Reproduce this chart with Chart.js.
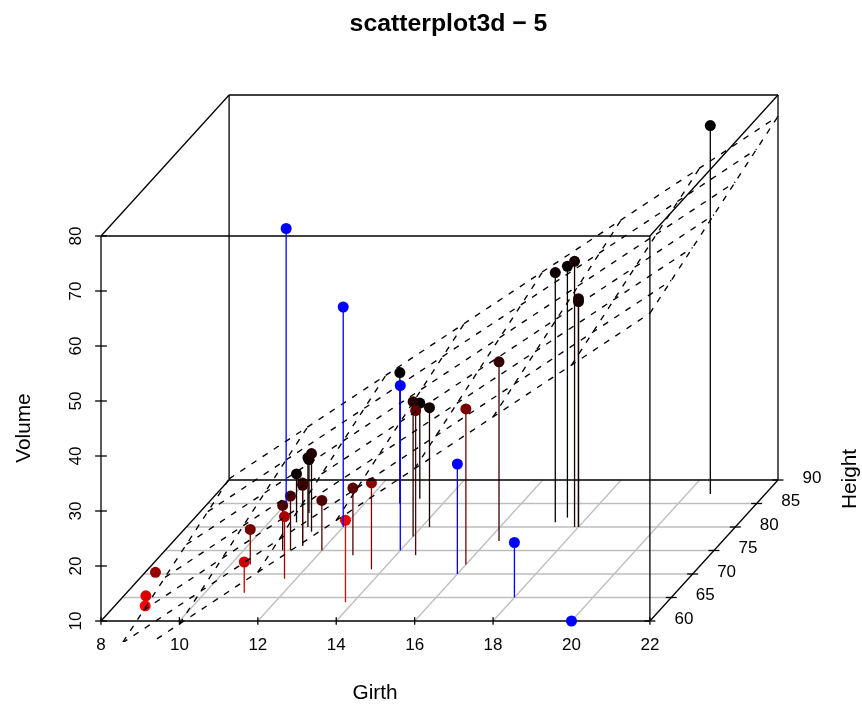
<!DOCTYPE html>
<html>
<head>
<meta charset="utf-8">
<title>scatterplot3d - 5</title>
<script src="https://cdn.jsdelivr.net/npm/chart.js@4"></script>
<style>
html, body { margin: 0; padding: 0; background: #fff; }
canvas { display: block; }
</style>
</head>
<body>
<canvas id="trees3d" width="862" height="704"></canvas>
<script>
// trees data
var girth = [8.3, 8.6, 8.8, 10.5, 10.7, 10.8, 11.0, 11.0, 11.1, 11.2, 11.3, 11.4, 11.4, 11.7, 12.0, 12.9, 12.9, 13.3, 13.7, 13.8, 14.0, 14.2, 14.5, 16.0, 16.3, 17.3, 17.5, 17.9, 18.0, 18.0, 20.6];
var height = [70, 65, 63, 72, 81, 83, 66, 75, 80, 75, 79, 76, 76, 69, 75, 74, 85, 86, 71, 64, 78, 80, 74, 72, 77, 81, 82, 80, 80, 80, 87];
var volume = [10.3, 10.3, 10.2, 16.4, 18.8, 19.7, 15.6, 18.2, 22.6, 19.9, 24.2, 21.0, 21.4, 21.3, 19.1, 22.2, 33.8, 27.4, 25.7, 24.9, 34.5, 31.7, 36.3, 38.3, 42.6, 55.4, 55.7, 58.3, 51.5, 51.0, 77.0];

// the blue points added on top
var blueGirth = [10, 12, 14, 16, 18, 20];
var blueHeight = [85, 80, 75, 70, 65, 60];
var blueVolume = [60, 50, 40, 30, 20, 10];

// axis ticks
var girthTicks = [8, 10, 12, 14, 16, 18, 20, 22];
var heightTicks = [60, 65, 70, 75, 80, 85, 90];
var volumeTicks = [10, 20, 30, 40, 50, 60, 70, 80];

// regression plane: Volume ~ Girth + Height
var planeIntercept = -57.9877;
var planeGirth = 4.7082;
var planeHeight = 0.3393;

// how far one unit of height moves a point on the page, in girth and volume units
var heightToGirth = 0.1089;
var heightToVolume = 0.8545;

var FONT = '"Liberation Sans", Arial, sans-serif';

var gMin = 8, gMax = 22, hMin = 60, hMax = 90, vMin = 10, vMax = 80;

function px(g, h) { return g + (h - hMin) * heightToGirth; }
function py(v, h) { return v + (h - hMin) * heightToVolume; }
function pt(g, h, v) { return { x: px(g, h), y: py(v, h) }; }

var layers = [];

function seg(a, b, color, extra) {
    var ds = {
        data: [a, b],
        showLine: true,
        borderColor: color,
        borderWidth: 1.3,
        pointRadius: 0,
        clip: false
    };
    for (var k in extra) ds[k] = extra[k];
    layers.push(ds);
}

function stem(g, h, v, color) {
    seg(pt(g, h, vMin), pt(g, h, v), color, {
        pointRadius: [0, 5.5],
        pointBackgroundColor: color,
        pointBorderWidth: 0
    });
}

// grid on the floor
girthTicks.slice(1, -1).forEach(function (g) {
    seg(pt(g, hMin, vMin), pt(g, hMax, vMin), '#bebebe');
});
heightTicks.slice(1, -1).forEach(function (h) {
    seg(pt(gMin, h, vMin), pt(gMax, h, vMin), '#bebebe');
});

// points go back to front, getting redder towards the viewer
var order = girth.map(function (g, i) { return i; });
order.sort(function (a, b) { return (height[b] - height[a]) || (a - b); });
var maxH = Math.max.apply(null, height), minH = Math.min.apply(null, height);
order.forEach(function (i, rank) {
    var red = rank / (order.length - 1) * (maxH - height[i]) / (maxH - minH);
    stem(girth[i], height[i], volume[i], 'rgb(' + Math.round(red * 255) + ',0,0)');
});

// box
seg(pt(gMin, hMin, vMin), pt(gMax, hMin, vMin), '#000');
seg(pt(gMin, hMin, vMax), pt(gMax, hMin, vMax), '#000');
seg(pt(gMin, hMin, vMin), pt(gMin, hMin, vMax), '#000');
seg(pt(gMax, hMin, vMin), pt(gMax, hMin, vMax), '#000');
seg(pt(gMin, hMax, vMin), pt(gMax, hMax, vMin), '#000');
seg(pt(gMin, hMax, vMax), pt(gMax, hMax, vMax), '#000');
seg(pt(gMin, hMax, vMin), pt(gMin, hMax, vMax), '#000');
seg(pt(gMax, hMax, vMin), pt(gMax, hMax, vMax), '#000');
seg(pt(gMin, hMin, vMin), pt(gMin, hMax, vMin), '#000');
seg(pt(gMax, hMin, vMin), pt(gMax, hMax, vMin), '#000');
seg(pt(gMin, hMin, vMax), pt(gMin, hMax, vMax), '#000');
seg(pt(gMax, hMin, vMax), pt(gMax, hMax, vMax), '#000');

// tick marks cross the axis lines
girthTicks.forEach(function (g) {
    seg(pt(g, hMin, vMin - 0.7), pt(g, hMin, vMin + 0.7), '#000');
});
volumeTicks.forEach(function (v) {
    seg(pt(gMin - 0.15, hMin, v), pt(gMin + 0.15, hMin, v), '#000');
});
heightTicks.forEach(function (h) {
    seg(pt(gMax - 0.14, h, vMin), pt(gMax + 0.14, h, vMin), '#000');
});

// dashed regression plane, may run below the box as far as the plot region
function planeAt(g, h) { return planeIntercept + planeGirth * g + planeHeight * h; }
var planeStyle = { borderWidth: 1.35, borderDash: [6, 7.4], clip: { left: false, right: false, top: false, bottom: 21 } };
girthTicks.forEach(function (g) {
    seg(pt(g, hMin, planeAt(g, hMin)), pt(g, hMax, planeAt(g, hMax)), '#000', planeStyle);
});
heightTicks.forEach(function (h) {
    seg(pt(gMin, h, planeAt(gMin, h)), pt(gMax, h, planeAt(gMax, h)), '#000', planeStyle);
});

blueGirth.forEach(function (g, i) {
    stem(g, blueHeight[i], blueVolume[i], '#0000ff');
});

// first dataset is painted last by Chart.js, so flip the list
layers.reverse();

var textPlugin = {
    id: 'textPlugin',
    afterDraw: function (chart) {
        var c = chart.ctx, xs = chart.scales.x, ys = chart.scales.y;
        c.save();
        c.fillStyle = '#000';
        c.textAlign = 'center';
        c.textBaseline = 'middle';

        c.font = 'bold 24.8px ' + FONT;
        c.fillText('scatterplot3d \u2212 5', 448.5, 24);

        c.font = '17px ' + FONT;
        heightTicks.forEach(function (h) {
            c.fillText(String(h), xs.getPixelForValue(px(gMax, h)) + 34, ys.getPixelForValue(py(vMin, h)) - 2);
        });

        c.font = '20.8px ' + FONT;
        c.fillText('Girth', 375, 693);

        c.save();
        c.translate(24, 428);
        c.rotate(-Math.PI / 2);
        c.fillText('Volume', 0, 0);
        c.restore();

        c.translate(850, 479);
        c.rotate(-Math.PI / 2);
        c.fillText('Height', 0, 0);
        c.restore();
    }
};

var ctx = document.getElementById('trees3d').getContext('2d');
var chart3d = new Chart(ctx, {
    type: 'scatter',
    data: { datasets: layers },
    plugins: [textPlugin],
    options: {
        responsive: false,
        animation: false,
        layout: { padding: { left: 0, right: 84, top: 95, bottom: 0 } },
        plugins: { legend: { display: false }, tooltip: { enabled: false } },
        scales: {
            x: {
                type: 'linear',
                min: gMin,
                max: px(gMax, hMax),
                afterFit: function (s) { s.height = 83; },
                grid: { display: false, drawTicks: false },
                border: { display: false },
                ticks: {
                    stepSize: 2,
                    includeBounds: false,
                    maxRotation: 0,
                    autoSkip: false,
                    padding: 14,
                    color: '#000',
                    font: { family: FONT, size: 17 },
                    callback: function (v) { return v <= gMax ? v : ''; }
                }
            },
            y: {
                type: 'linear',
                min: vMin,
                max: py(vMax, hMax),
                afterFit: function (s) { s.width = 101; },
                grid: { display: false, drawTicks: false },
                border: { display: false },
                ticks: {
                    stepSize: 10,
                    includeBounds: false,
                    minRotation: 90,
                    maxRotation: 90,
                    autoSkip: false,
                    crossAlign: 'center',
                    padding: 15,
                    color: '#000',
                    font: { family: FONT, size: 17 },
                    callback: function (v) { return v <= vMax ? v : ''; }
                }
            }
        }
    }
});
</script>
</body>
</html>
